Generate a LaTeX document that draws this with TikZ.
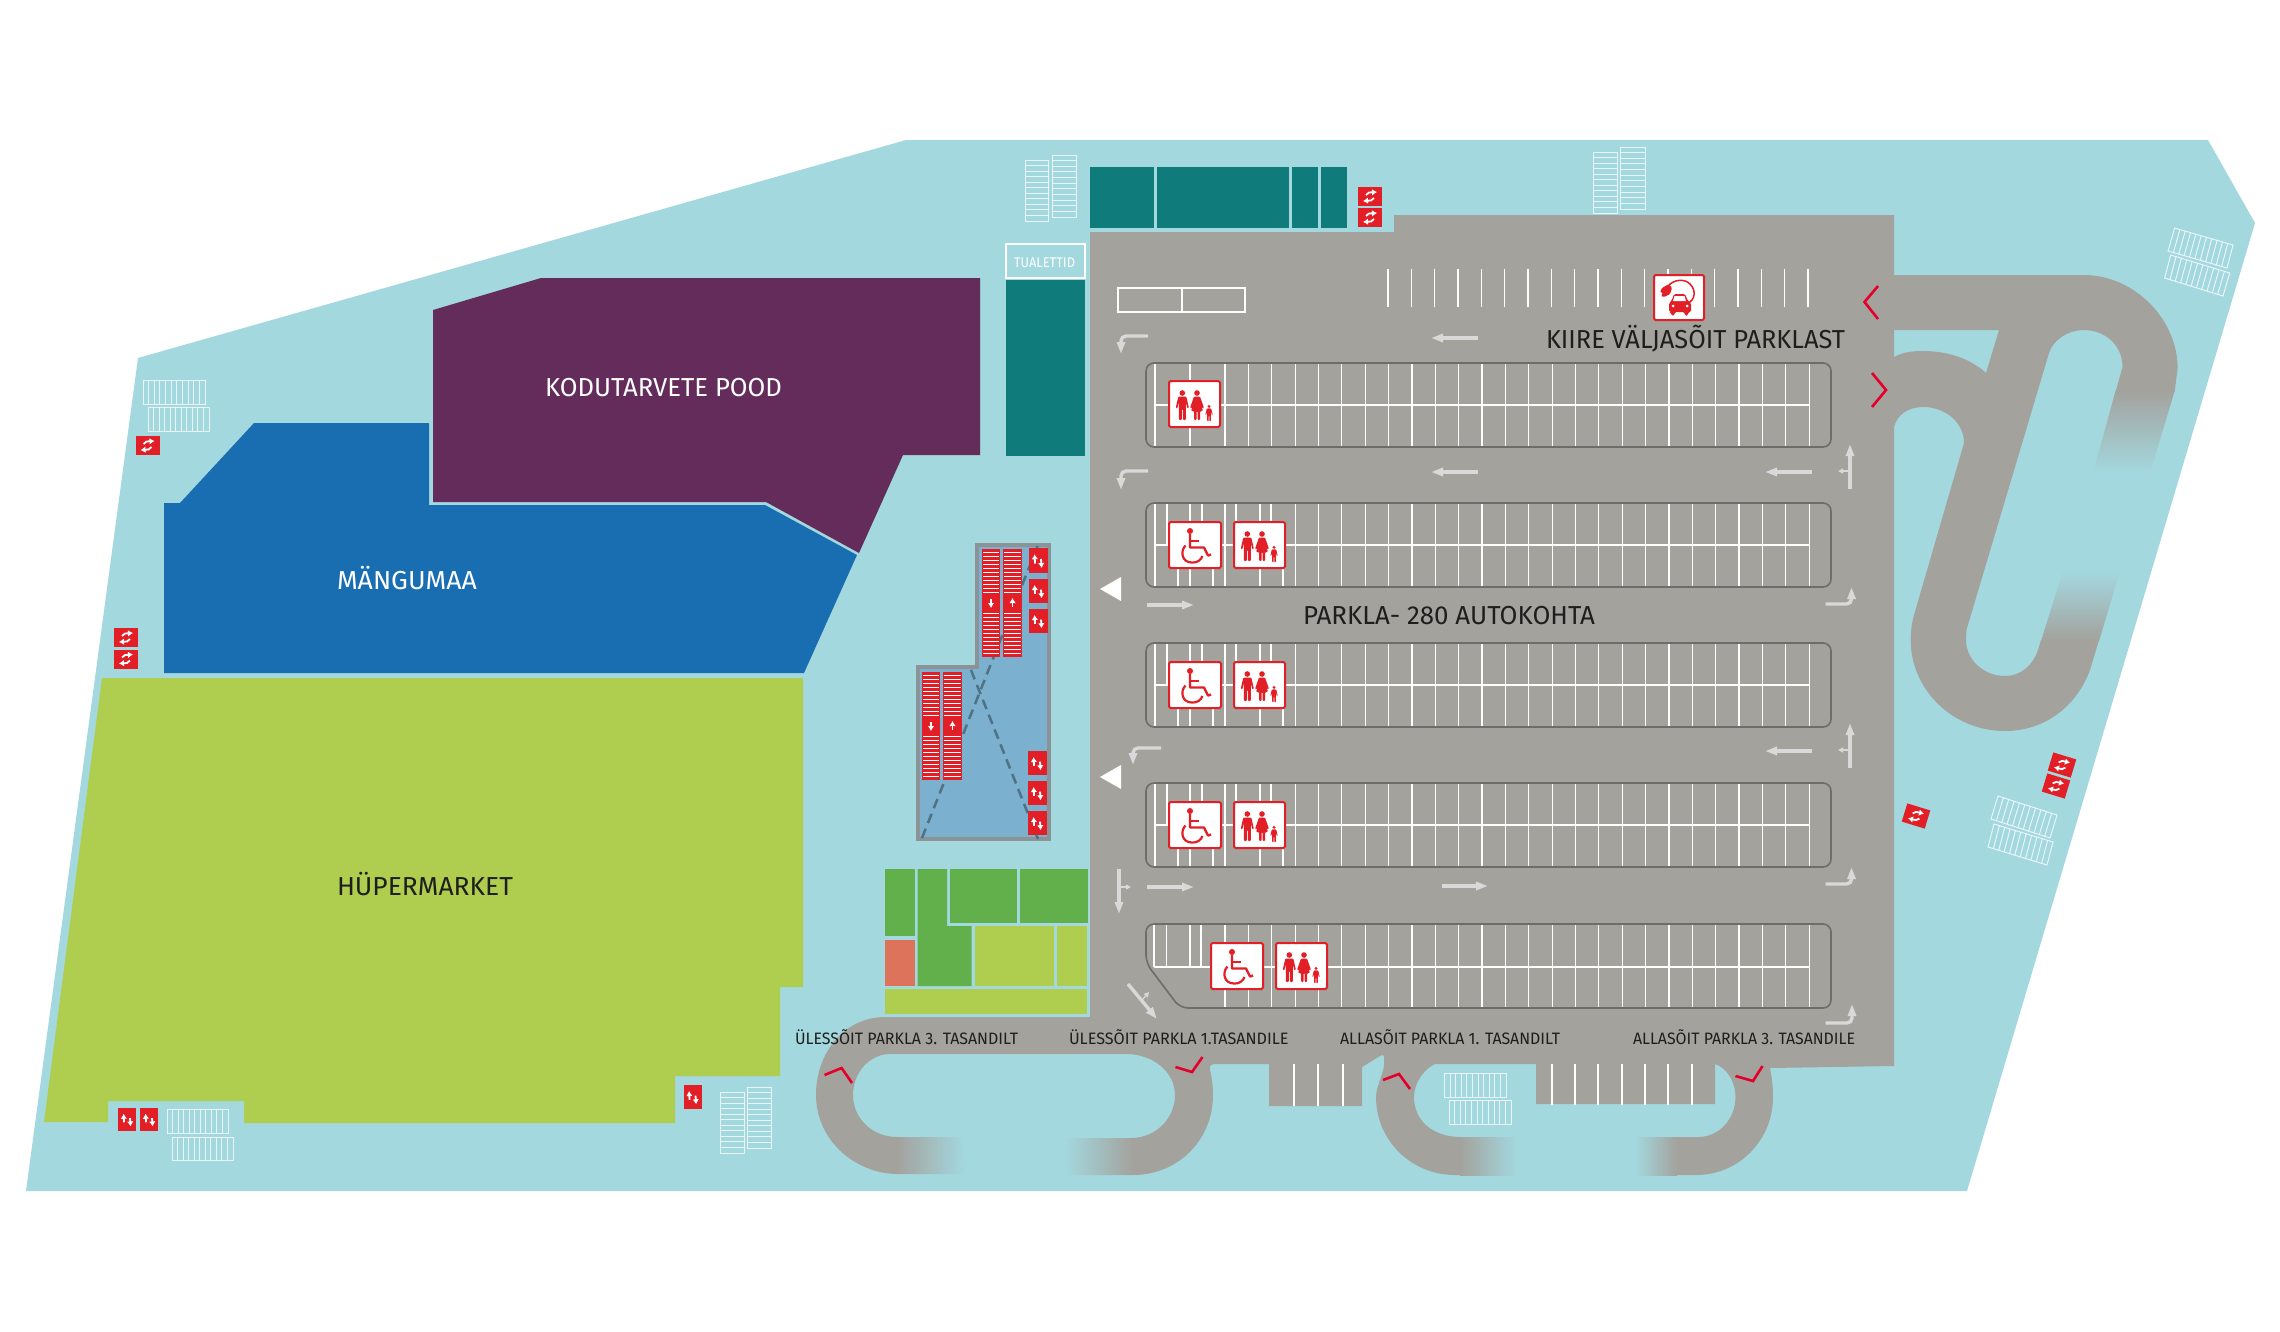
\documentclass[tikz,border=0pt]{standalone}
\usepackage{fontspec}
\usepackage{graphicx}
\setmainfont{Fira Sans}
\usetikzlibrary{calc,arrows.meta}
\definecolor{bgc}{HTML}{A3D8DF}
\definecolor{road}{HTML}{A3A29D}
\definecolor{hyper}{HTML}{AFCD4F}
\definecolor{blu}{HTML}{196EB2}
\definecolor{purp}{HTML}{632C5B}
\definecolor{teal}{HTML}{107B7B}
\definecolor{grn}{HTML}{62B04C}
\definecolor{orng}{HTML}{DD735A}
\definecolor{redc}{HTML}{E21E26}
\definecolor{chev}{HTML}{E4002B}
\definecolor{edgeg}{HTML}{6D6E6C}
\definecolor{arrg}{HTML}{D8D9D8}
\definecolor{housef}{HTML}{7BB0CE}
\definecolor{houseg}{HTML}{8C9396}
\definecolor{dashc}{HTML}{4F7284}
\definecolor{ink}{HTML}{1E1E1E}
\tikzset{
  x=1pt,y=-1pt,
  parkline/.style={draw=white,line width=1.2},
  rowedge/.style={draw=edgeg,line width=1.6,rounded corners=8pt},
  rackline/.style={draw=white,line width=1,opacity=.75},
  garrow/.style={draw=arrg,line width=3.4,rounded corners=5pt,-{Triangle[length=12pt,width=8pt]}},
  garrowthin/.style={draw=arrg,line width=1.3,-{Triangle[length=5pt,width=5pt]}},
  chevron/.style={draw=chev,line width=2.6},
  signbox/.style={draw=redc,fill=white,line width=2,rounded corners=1.5pt},
  whitearr/.style={draw=white,line width=1.8,-{Latex[length=5pt,width=6.5pt]}},
  lbl/.style={anchor=base,inner sep=0pt,outer sep=0pt},
}
% four-corner rack: lines between A-B and D-C
\newcommand{\rackq}[5]{%
  \draw[rackline] #1 -- #2 -- #3 -- #4 -- cycle;
  \pgfmathtruncatemacro\rackm{#5-1}%
  \foreach \i in {1,...,\rackm}{%
    \pgfmathsetmacro\rackt{\i/#5}%
    \draw[rackline] ($#1!\rackt!#2$) -- ($#4!\rackt!#3$);
  }%
}
% red sign, two horizontal arrows; centre, rotation
\newcommand{\signH}[3]{%
  \begin{scope}[shift={(#1,#2)},rotate=#3]
    \fill[redc] (-12,-9.5) rectangle (12,9.5);
    \draw[whitearr] (-4,-1.5) -- (-1,-4) -- (7,-4.5);
    \draw[whitearr] (4,1.5) -- (1,4) -- (-7,4.5);
  \end{scope}}
% red sign, up and down arrows; left, top, width, height
\newcommand{\signV}[4]{%
  \begin{scope}[shift={(#1,#2)}]
    \fill[redc] (0,0) rectangle (#3,#4);
    \draw[whitearr] (6,{#4*.62}) -- (5.6,{#4*.25});
    \draw[whitearr] (12,{#4*.44}) -- (12.6,{#4*.8});
  \end{scope}}
% stair stack: left, right, top, direction (1 = up, -1 = down)
\newcommand{\stack}[4]{%
  \fill[redc] (#1,#3) rectangle (#2,#3+108);
  \foreach \k in {0,...,10}{%
    \draw[white,line width=.95] (#1+1.2,#3+3.5+4*\k) -- (#2-1.2,#3+3.5+4*\k);
    \draw[white,line width=.95] (#1+1.2,#3+64+4*\k) -- (#2-1.2,#3+64+4*\k);
  }%
  \draw[whitearr] ({(#1+#2)/2},#3+54+4*#4) -- ({(#1+#2)/2},#3+54-5*#4);
}
% people
\newcommand{\man}[3]{%
  \begin{scope}[shift={(#1,#2)},scale=#3]
    \fill[redc] (0,-11) circle (2.8);
    \fill[redc,rounded corners=1pt] (-4,-7.5) -- (4,-7.5) -- (6.6,4) -- (5,4.5) -- (3.5,-2) -- (3.5,16) -- (.5,16) -- (.5,5) -- (-.5,5) -- (-.5,16) -- (-3.5,16) -- (-3.5,-2) -- (-5,4.5) -- (-6.6,4) -- cycle;
  \end{scope}}
\newcommand{\woman}[2]{%
  \begin{scope}[shift={(#1,#2)}]
    \fill[redc] (0,-11) circle (2.8);
    \fill[redc,rounded corners=1pt] (-3,-7.5) -- (3,-7.5) -- (7,4) -- (5.5,4.5) -- (3,-2) -- (6,7) -- (3,7) -- (3,16) -- (.5,16) -- (.5,7) -- (-.5,7) -- (-.5,16) -- (-3,16) -- (-3,7) -- (-6,7) -- (-3,-2) -- (-5.5,4.5) -- (-7,4) -- cycle;
  \end{scope}}
\newcommand{\familysign}[2]{%
  \begin{scope}[shift={(#1,#2)}]
    \draw[signbox] (0,0) rectangle (51,46);
    \man{13.3}{23}{1}
    \woman{28}{23}
    \man{40}{31.5}{.55}
  \end{scope}}
\newcommand{\wheelsign}[2]{%
  \begin{scope}[shift={(#1,#2)}]
    \draw[signbox] (0,0) rectangle (52,46);
    \fill[redc] (21,9) circle (3);
    \draw[redc,line width=2.4,line join=round] (21,12) -- (21,25.5) -- (35,25.5) -- (39,33.5) -- (42,32.5);
    \draw[redc,line width=2] (21,19) -- (30,19);
    \draw[redc,line width=2.2] (16.5,23.5) .. controls (11,29) and (12.5,40.5) .. (23,40.5) .. controls (28,41) and (32,38) .. (33.5,34);
  \end{scope}}
% parking row
\newcommand{\rowlines}[2]{% top, list of k
  \foreach \k in {#2}{\draw[parkline] ({1155+23.36*\k},#1+1) -- ({1155+23.36*\k},#1+83);}}
\newcommand{\rowhalves}[1]{% top; partial lines by the signs
  \foreach \xx in {1155,1167,1190,1202,1225,1236,1260,1271}{\draw[parkline] (\xx,#1+1) -- (\xx,#1+42);}
  \foreach \xx in {1155,1178,1190,1213,1225,1260,1283}{\draw[parkline] (\xx,#1+42) -- (\xx,#1+83);}
  \rowlines{#1}{6,...,28}
  \draw[parkline] (1155,#1+42) -- (1809,#1+42);
  \draw[rowedge] (1146,#1) rectangle (1831,#1+84);
}
\newcommand{\txt}[7]{% name, centre x, baseline y, width, size, colour, text
  \node[lbl,text=#6] (#1) at (#2,#3) {\fontsize{#5}{#5}\selectfont\resizebox{#4pt}{\height}{#7}};}
\begin{document}
\begin{tikzpicture}
\useasboundingbox (0,0) rectangle (2280,1331);
% ground
\fill[bgc] (138,358) -- (906,140) -- (2208,140) -- (2255,223) -- (1967,1191) -- (26,1191) -- cycle;
% shops
\fill[purp] (433,310) -- (541,278) -- (980,278) -- (980,455) -- (903,455) -- (859,553) -- (766,502) -- (433,502) -- cycle;
\fill[blu] (254,423) -- (429,423) -- (429,505) -- (765,505) -- (857,555) -- (804,673) -- (164,673) -- (164,503) -- (180,503) -- cycle;
\fill[hyper] (102,678) -- (803,678) -- (803,987) -- (780,987) -- (780,1076) -- (675,1076) -- (675,1123) -- (244,1123) -- (244,1101) -- (108,1101) -- (108,1122) -- (44,1122) -- cycle;
% teal units
\fill[teal] (1090,167) rectangle (1154,228);
\fill[teal] (1157,167) rectangle (1289,228);
\fill[teal] (1292,167) rectangle (1318,228);
\fill[teal] (1321,167) rectangle (1347,228);
\fill[teal] (1006,280) rectangle (1085,456);
\draw[white,line width=2.2] (1006,244) rectangle (1085,278);
% small green block
\fill[grn] (885,869) rectangle (915,936);
\fill[orng] (885,940) rectangle (915,986);
\fill[grn] (917.5,869) -- (947,869) -- (947,926) -- (971.5,926) -- (971.5,986) -- (917.5,986) -- cycle;
\fill[grn] (950,869) rectangle (1017,923);
\fill[grn] (1020,869) rectangle (1088,923);
\fill[hyper] (975,926) rectangle (1054,986);
\fill[hyper] (1057,926) rectangle (1087,986);
\fill[hyper] (885,989) rectangle (1087,1014);
% parking deck and lower ramps
\fill[road] (1090,232) -- (1394,232) -- (1394,215) -- (1894,215) -- (1894,1066) -- (1770,1068)
  .. controls (1772,1078) and (1773,1087) .. (1773,1097)
  .. controls (1773,1140) and (1739,1175) .. (1696,1175) -- (1676,1175) -- (1676,1137) -- (1698,1137)
  .. controls (1720,1137) and (1735.5,1118) .. (1735.5,1097)
  .. controls (1735.5,1082) and (1727,1068) .. (1715,1064) -- (1715,1104) -- (1536,1104) -- (1536,1064) -- (1435,1064)
  .. controls (1422,1070) and (1414,1085) .. (1414,1097)
  .. controls (1414,1120) and (1432,1137) .. (1461,1137) -- (1461,1175) -- (1455,1175)
  .. controls (1411,1175) and (1376,1140) .. (1376,1097)
  .. controls (1376,1085) and (1386,1070) .. (1384,1060)
  .. controls (1385,1055) and (1383,1054) .. (1380,1056) -- (1362,1067) -- (1362,1106) -- (1269,1106) -- (1269,1064) -- (1215,1064)
  .. controls (1210,1064) and (1209,1067) .. (1210,1070)
  .. controls (1212,1078) and (1213,1087) .. (1213,1095)
  .. controls (1213,1140) and (1178,1175) .. (1133,1175) -- (1131,1138)
  .. controls (1156,1138) and (1175,1118) .. (1175,1095)
  .. controls (1175,1072) and (1153,1054) .. (1126,1054) -- (890,1054)
  .. controls (870,1054) and (853,1072) .. (853,1095)
  .. controls (853,1118) and (872,1137) .. (897,1137) -- (898,1174)
  .. controls (855,1174) and (816,1140) .. (816,1095)
  .. controls (816,1052) and (845,1017) .. (885,1017) -- (1090,1017) -- cycle;
% right ramps
\fill[road] (1890,275) -- (2083.5,275)
  .. controls (2135,275) and (2177.6,320) .. (2177.6,368) -- (2174.6,392) -- (2115.5,392) -- (2122.5,367)
  .. controls (2122.5,345) and (2105,330) .. (2083.5,330)
  .. controls (2068,330) and (2053,340) .. (2049,353) -- (1967,628)
  .. controls (1966,632) and (1966,636) .. (1966,640)
  .. controls (1966,660) and (1984,676) .. (2005,676)
  .. controls (2021,676) and (2033,665) .. (2038,650) -- (2041,640) -- (2099,640) -- (2090,670)
  .. controls (2076,708) and (2043,731) .. (2005,731)
  .. controls (1953,731) and (1910.7,690) .. (1910.7,640)
  .. controls (1910.7,630) and (1912,622) .. (1914,615) -- (1964,443)
  .. controls (1964,422) and (1945,407) .. (1923,407)
  .. controls (1908,407) and (1897,415) .. (1894,427) -- (1890,427) -- (1890,357) -- (1894,357)
  .. controls (1903,352) and (1913,351) .. (1923,351)
  .. controls (1950,351) and (1972,360) .. (1986,373) -- (1999,330) -- (1890,330) -- cycle;
% fades
\shade[top color=road,bottom color=bgc] (2115.5,391) -- (2174.6,391) -- (2150,473) -- (2093,473) -- cycle;
\shade[top color=bgc,bottom color=road] (2063,571) -- (2120,571) -- (2099,641) -- (2041,641) -- cycle;
\shade[left color=road,right color=bgc] (897,1137) -- (961,1137) -- (965,1174) -- (897,1174) -- cycle;
\shade[left color=bgc,right color=road] (1065,1138) -- (1132,1138) -- (1133,1175) -- (1068,1175) -- cycle;
\shade[left color=road,right color=bgc] (1460,1137) rectangle (1516,1175);
\shade[left color=bgc,right color=road] (1635,1137) rectangle (1677,1175);
% stub stall lines
\foreach \xx in {1294,1318,1343}{\draw[parkline] (\xx,1064) -- (\xx,1106);}
\foreach \xx in {1552,1575,1598,1622,1645,1668,1692}{\draw[parkline] (\xx,1064) -- (\xx,1105);}
% top stall lines
\foreach \k in {0,...,18}{\draw[parkline] ({1388+23.33*\k},269) -- ({1388+23.33*\k},307);}
\draw[draw=white,line width=1.6] (1118,288) rectangle (1245,312);
\draw[draw=white,line width=1.6] (1182,288) -- (1182,312);
% rows
\rowlines{363}{0,1.5,3,4,...,28}
\draw[parkline] (1155,405) -- (1809,405);
\draw[rowedge] (1146,363) rectangle (1831,447);
\rowhalves{503}
\rowhalves{643}
\rowhalves{783}
\foreach \xx in {1154,1166.5,1190,1201}{\draw[parkline] (\xx,925) -- (\xx,967);}
\rowlines{924}{3,4,...,28}
\draw[parkline] (1154,967) -- (1809,967);
\draw[rowedge] (1146,963) -- (1146,924) -- (1831,924) -- (1831,1008) -- (1180,1008) -- cycle;
% signs
\familysign{1169}{381}
\wheelsign{1169}{522}\familysign{1234}{522}
\wheelsign{1169}{662}\familysign{1234}{662}
\wheelsign{1169}{802}\familysign{1234}{802}
\wheelsign{1211}{943}\familysign{1276}{943}
% charging sign
\begin{scope}[shift={(1654,275)}]
  \draw[signbox] (0,0) rectangle (50,45);
  \draw[redc,line width=1.5] (15,10) .. controls (20,5) and (30,3) .. (36,9) .. controls (43,16) and (40,25) .. (35,28);
  \fill[redc,rounded corners=1pt] (8,13) -- (15,9) -- (18,13) -- (16,19) -- (10,22) -- (7,21) -- (9,18) -- (6,17) -- cycle;
  \fill[redc,rounded corners=1.5pt] (20,19) -- (31,19) -- (34,26) -- (37,28) -- (37,37) -- (34,37) -- (34,40.5) -- (30.5,40.5) -- (30.5,37) -- (20.5,37) -- (20.5,40.5) -- (17,40.5) -- (17,37) -- (15,37) -- (15,28) -- (17.5,26) -- cycle;
  \fill[white] (20.5,21) -- (30.5,21) -- (32,26) -- (19,26) -- cycle;
  \fill[white] (19,31) circle (1.5) (33,31) circle (1.5);
\end{scope}
% road arrows
\draw[garrow] (1148,336) -- (1121,336) -- (1121,354);
\draw[garrow] (1148,471) -- (1121,471) -- (1121,490);
\draw[garrow] (1478,338) -- (1431,338);
\draw[garrow] (1478,472) -- (1431,472);
\draw[garrow] (1812,472) -- (1765,472);
\draw[garrow] (1812,751) -- (1765,751);
\draw[garrow] (1850,489) -- (1850,444);
\draw[garrowthin] (1850,471) -- (1838,471);
\draw[garrow] (1850,768) -- (1850,723);
\draw[garrowthin] (1850,750) -- (1838,750);
\draw[garrow] (1825.5,604) -- (1851.5,604) -- (1851.5,587);
\draw[garrow] (1825.5,884) -- (1851.5,884) -- (1851.5,867);
\draw[garrow] (1825.5,1023) -- (1852,1023) -- (1852,1004);
\draw[garrow] (1147,605) -- (1194,605);
\draw[garrow] (1147,887) -- (1194,887);
\draw[garrow] (1442,886) -- (1488,886);
\draw[garrow] (1161,748) -- (1133,748) -- (1133,765);
\draw[garrow] (1119,869) -- (1119,914);
\draw[garrowthin] (1119,887) -- (1131,887);
\draw[garrow] (1128,984) -- (1157,1019);
\draw[garrowthin] (1142,1000) -- (1149,992);
% white triangles
\fill[white] (1100,589) -- (1121,577) -- (1121,601) -- cycle;
\fill[white] (1100,777) -- (1121,765) -- (1121,789) -- cycle;
% stair house
\draw[fill=housef,draw=houseg,line width=3.5] (977,545) -- (1049,545) -- (1049,839) -- (918,839) -- (918,667) -- (977,667) -- cycle;
\draw[dashc,line width=2.5,dash pattern=on 10pt off 6pt] (922,838) -- (1038,545);
\draw[dashc,line width=2.5,dash pattern=on 10pt off 6pt] (971,670) -- (1038,839);
\stack{982}{1000}{549}{-1}
\stack{1003}{1022}{549}{1}
\stack{922}{940}{672}{-1}
\stack{943}{962}{672}{1}
\signV{1029}{548}{19}{25}
\signV{1029}{579}{19}{24}
\signV{1029}{609}{19}{24}
\signV{1028}{751}{19}{24}
\signV{1028}{781}{19}{24}
\signV{1028}{811}{19}{24}
\signV{118}{1108}{18}{23}
\signV{140}{1108}{18}{23}
\signV{683.5}{1085}{18}{24}
% horizontal red signs
\signH{147.5}{445.5}{0}
\signH{126}{637.5}{0}
\signH{126}{659}{0}
\signH{1370}{196.5}{0}
\signH{1370}{217.5}{0}
\signH{2062}{765}{-17}
\signH{2056}{786}{-17}
\signH{1916}{816}{-17}
% racks
\rackq{(1025,160)}{(1025,221)}{(1048.6,221)}{(1048.6,160)}{11}
\rackq{(1052,155)}{(1052,217)}{(1076,217)}{(1076,155)}{11}
\rackq{(1593,152)}{(1593,213)}{(1617.5,213)}{(1617.5,152)}{11}
\rackq{(1620,147)}{(1620,209)}{(1645,209)}{(1645,147)}{11}
\rackq{(143,380)}{(205,380)}{(205,404)}{(143,404)}{11}
\rackq{(148,407)}{(209,407)}{(209,431)}{(148,431)}{11}
\rackq{(167,1109)}{(228,1109)}{(228,1133)}{(167,1133)}{11}
\rackq{(172,1137)}{(233,1137)}{(233,1160)}{(172,1160)}{11}
\rackq{(720.5,1092)}{(720.5,1153)}{(744.4,1153)}{(744.4,1092)}{11}
\rackq{(747.6,1087)}{(747.6,1148)}{(771,1148)}{(771,1087)}{11}
\rackq{(1444.5,1073)}{(1506,1073)}{(1506,1097)}{(1444.5,1097)}{11}
\rackq{(1449,1100)}{(1511,1100)}{(1511,1124)}{(1449,1124)}{11}
\rackq{(2174.6,228)}{(2233,245)}{(2227,268)}{(2168,251)}{11}
\rackq{(2170.7,255)}{(2229.7,273)}{(2223,296)}{(2164.6,278)}{11}
\rackq{(1998,796)}{(2057,815)}{(2050,838)}{(1991,819)}{11}
\rackq{(1994,824)}{(2053,842)}{(2047,865)}{(1988,847)}{11}
% chevrons
\draw[chevron] (1878,286) -- (1864.5,302) -- (1878,319);
\draw[chevron] (1872,373) -- (1886,390) -- (1872,407);
\draw[chevron] (824.5,1075) -- (841.6,1068) -- (852,1083);
\draw[chevron] (1175.5,1067) -- (1192,1072) -- (1202.5,1057);
\draw[chevron] (1383,1080) -- (1399,1074) -- (1410,1089);
\draw[chevron] (1735.5,1076) -- (1753,1081) -- (1762.5,1066);
% texts
\txt{tTual}{1044.5}{267}{61}{14}{white}{TUALETTID}
\txt{tKodu}{663.5}{396}{237}{26}{white}{KODUTARVETE POOD}
\txt{tMang}{407}{589}{140}{26}{white}{MÄNGUMAA}
\txt{tHyper}{425}{895}{176}{26}{ink}{HÜPERMARKET}
\txt{tKiire}{1695.5}{348}{299}{26}{ink}{KIIRE VÄLJASÕIT PARKLAST}
\txt{tParkla}{1449}{624}{292}{26}{ink}{PARKLA- 280 AUTOKOHTA}
\txt{tUl3}{906.5}{1044}{223}{16.5}{ink}{ÜLESSÕIT PARKLA 3. TASANDILT}
\txt{tUl1}{1178.8}{1044}{219.6}{16.5}{ink}{ÜLESSÕIT PARKLA 1.TASANDILE}
\txt{tAl1}{1450}{1044}{220}{16.5}{ink}{ALLASÕIT PARKLA 1. TASANDILT}
\txt{tAl3}{1744}{1044}{222}{16.5}{ink}{ALLASÕIT PARKLA 3. TASANDILE}
\end{tikzpicture}
\end{document}
